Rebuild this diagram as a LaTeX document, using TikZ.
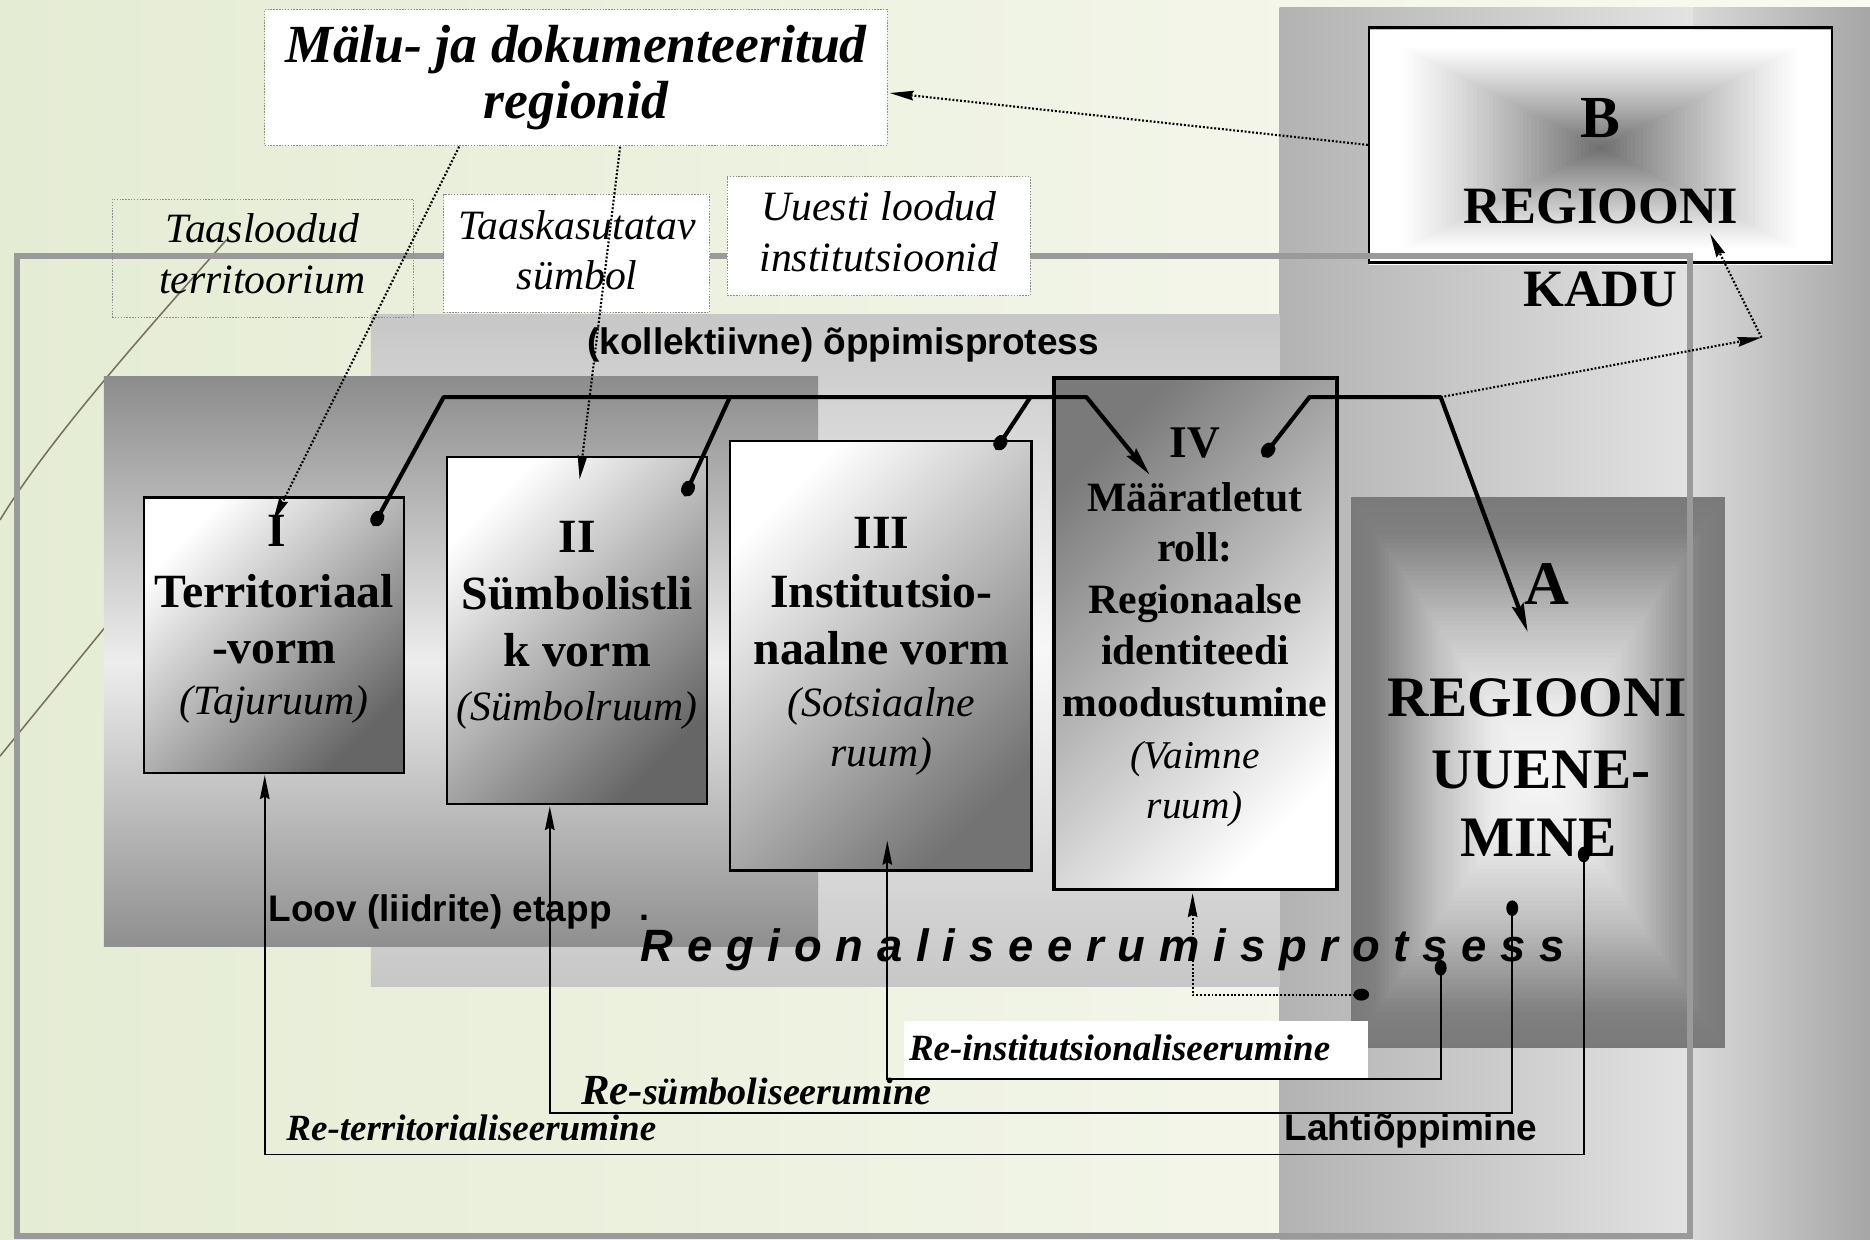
\documentclass[tikz,border=0pt]{standalone}
\usepackage{fontspec}
\setmainfont{Liberation Serif}
\setsansfont{Liberation Sans}
\usetikzlibrary{arrows.meta}
\definecolor{bgL}{RGB}{229,236,212}
\definecolor{bgR}{RGB}{249,250,242}
\definecolor{framegray}{RGB}{154,154,154}
\definecolor{decor}{RGB}{120,114,92}
\tikzset{
  lbl/.style={inner sep=0pt, anchor=base},
  bigB/.style={lbl, font=\fontsize{40}{40}\selectfont\bfseries},
  bigI/.style={lbl, font=\fontsize{35}{35}\selectfont\itshape},
  ivB/.style={lbl, font=\fontsize{35}{35}\selectfont\bfseries},
  ivI/.style={lbl, font=\fontsize{33}{33}\selectfont\itshape},
  abB/.style={lbl, font=\fontsize{48}{48}\selectfont\bfseries},
  bbB/.style={lbl, font=\fontsize{44}{44}\selectfont\bfseries},
  topI/.style={lbl, font=\fontsize{35}{35}\selectfont\itshape},
  maluT/.style={lbl, font=\fontsize{45}{45}\selectfont\bfseries\itshape},
  sansB/.style={lbl, font=\fontsize{30}{30}\selectfont\sffamily\bfseries},
  reT/.style={inner sep=0pt, anchor=base west, font=\fontsize{31}{31}\selectfont\bfseries\itshape},
  panel/.style={rectangle, inner sep=0pt, draw=none},
  formbox/.style={rectangle, inner sep=0pt, draw=black, line width=2pt},
  labelbox/.style={rectangle, inner sep=0pt, fill=white, draw=black!45, line width=0.8pt, dash pattern=on 1.2pt off 1.2pt},
  conn/.style={line width=3.5pt, line join=round},
  fb/.style={line width=1.6pt},
  dotline/.style={line width=1.8pt, dash pattern=on 1.6pt off 1.6pt},
  bigtip/.tip={Stealth[length=24pt,width=10pt,inset=3pt]},
  smalltip/.tip={Stealth[length=20pt,width=8pt,inset=2pt]},
  ball/.tip={Circle[length=14pt,width=11pt]},
  smallball/.tip={Circle[length=13pt,width=10pt]}
}
\begin{document}
\begin{tikzpicture}[x=1pt,y=-1pt]
\useasboundingbox (0,0) rectangle (1568,1039);
% background
\shade[left color=bgL, right color=bgR] (0,0) rectangle (1568,1039);
% decorative theme lines
\draw[decor, line width=1.3pt] (190,201) .. controls (120,280) and (40,370) .. (0,436);
\draw[decor, line width=1.3pt] (150,450) -- (0,634);
% right gray panel
\shade[left color=black!30, right color=black!11] (1073,6) rectangle (1420,1039);
\shade[left color=black!15, right color=black!35] (1420,6) rectangle (1568,1039);
% panels
\node[panel, minimum width=762pt, minimum height=563pt, top color=black!22, bottom color=black!22, middle color=black!3] (lightp) at (692,545.5) {};
\node[panel, minimum width=599pt, minimum height=478pt, top color=black!45, bottom color=black!44, middle color=black!7] (darkp) at (386.5,555) {};
% form boxes
\node[formbox, minimum width=218pt, minimum height=231pt, top color=white, bottom color=black!60, shading angle=45] (bI) at (230,532.5) {};
\node[formbox, minimum width=218pt, minimum height=291pt, top color=white, bottom color=black!60, shading angle=45] (bII) at (484,528.5) {};
\node[formbox, minimum width=253pt, minimum height=360pt, top color=white, bottom color=black!55, shading angle=45] (bIII) at (738.5,550) {};
\node[formbox, line width=3pt, minimum width=237pt, minimum height=429pt, top color=black!52, bottom color=white, shading angle=45] (bIV) at (1002.5,531.5) {};
% box A: rectangular gradient, dark edges to light centre
\foreach \i in {0,...,59}{
  \pgfmathsetmacro\t{\i/60}
  \pgfmathsetmacro\p{\t<0.12 ? 52-\t/0.12*2 : (\t<0.45 ? 50-(\t-0.12)/0.33*25 : (\t<0.75 ? 25-(\t-0.45)/0.3*17 : 8-(\t-0.75)/0.25*5))}
  \pgfmathsetmacro\w{156.5*(1-\t)}
  \pgfmathsetmacro\h{231*(1-\t)}
  \fill[black!\p] (1289.5-\w,648-\h) rectangle (1289.5+\w,648+\h);
}
\node[panel, minimum width=313pt, minimum height=462pt] (bA) at (1289.5,648) {};
% B box: rectangular gradient, dark centre to white edges
\foreach \i in {0,...,59}{
  \pgfmathsetmacro\t{\i/60}
  \pgfmathsetmacro\p{57*pow(max(\t-0.12,0.0001)/0.88,1.15)}
  \pgfmathsetmacro\w{194*(1-\t)}
  \pgfmathsetmacro\h{98.5*(1-\t)}
  \fill[black!\p] (1342-\w,124-\h) rectangle (1342+\w,124+\h);
}
\node[rectangle, inner sep=0pt, draw=black, line width=2pt, minimum width=388pt, minimum height=197pt] (bB) at (1342,121.5) {};
% memory box
\node[labelbox, minimum width=522pt, minimum height=114pt] (malu) at (483,65) {};
% frame
\draw[framegray, line width=5pt] (14,215) rectangle (1417,1036);
% small label boxes
\node[labelbox, fill=none, minimum width=253pt, minimum height=99pt] (taasl) at (220.5,216.5) {};
\node[labelbox, minimum width=223pt, minimum height=99pt] (taask) at (483.5,212.5) {};
\node[labelbox, minimum width=254pt, minimum height=100pt] (uuesti) at (737,198) {};
\node[rectangle, inner sep=0pt, fill=white, minimum width=389pt, minimum height=49pt] (reinstbox) at (952.5,880.5) {};

% ---------- texts ----------
\node[maluT] (malu1) at (483,52) {Mälu- ja dokumenteeritud};
\node[maluT] (malu2) at (483,99) {regionid};
\node[topI] (taasl1) at (220,203) {Taasloodud};
\node[topI] (taasl2) at (220,246) {territoorium};
\node[topI] (taask1) at (484,201) {Taaskasutatav};
\node[topI] (taask2) at (484,243) {sümbol};
\node[topI] (uu1) at (737,185) {Uuesti loodud};
\node[topI] (uu2) at (737,228) {institutsioonid};
\node[lbl, font=\fontsize{50}{50}\selectfont\bfseries] (Bt1) at (1342,115) {B};
\node[bbB] (Bt2) at (1342,187) {REGIOONI};
\node[bbB] (Bt3) at (1342,257) {KADU};
\node[sansB, font=\fontsize{31}{31}\selectfont\sffamily\bfseries] (kollekt) at (707,297) {(kollektiivne) õppimisprotess};
\node[sansB, anchor=base west, font=\fontsize{31}{31}\selectfont\sffamily\bfseries] (loov) at (225,773) {Loov (liidrite) etapp};
\node[sansB, anchor=base west] (stray) at (536,772) {.};
\node[inner sep=0pt, anchor=base west, font=\fontsize{38}{38}\selectfont\sffamily\bfseries\itshape] (regproc) at (537,806) {\hbox to 775pt{R\hfill e\hfill g\hfill i\hfill o\hfill n\hfill a\hfill l\hfill i\hfill s\hfill e\hfill e\hfill r\hfill u\hfill m\hfill i\hfill s\hfill p\hfill r\hfill o\hfill t\hfill s\hfill e\hfill s\hfill s}};
% box I
\node[bigB] (I1) at (232,458) {I};
\node[bigB] (I2) at (230,509) {Territoriaal};
\node[bigB] (I3) at (230,556) {-vorm};
\node[bigI] (I4) at (230,599) {(Tajuruum)};
% box II
\node[bigB] (II1) at (484,463) {II};
\node[bigB] (II2) at (484,511) {Sümbolistli};
\node[bigB] (II3) at (484,559) {k vorm};
\node[bigI] (II4) at (484,604) {(Sümbolruum)};
% box III
\node[bigB] (III1) at (739,460) {III};
\node[bigB] (III2) at (739,509) {Institutsio-};
\node[bigB] (III3) at (739,557) {naalne vorm};
\node[bigI] (III4) at (739,601) {(Sotsiaalne};
\node[bigI] (III5) at (739,643) {ruum)};
% box IV
\node[ivB, font=\fontsize{38}{38}\selectfont\bfseries] (IV1) at (1002,384) {IV};
\node[ivB] (IV2) at (1002,429) {Määratletut};
\node[ivB] (IV3) at (1002,471) {roll:};
\node[ivB] (IV4) at (1002,514) {Regionaalse};
\node[ivB] (IV5) at (1002,557) {identiteedi};
\node[ivB] (IV6) at (1002,601) {moodustumine};
\node[ivI] (IV7) at (1002,644) {(Vaimne};
\node[ivI] (IV8) at (1002,686) {ruum)};
% box A
\node[lbl, font=\fontsize{52}{52}\selectfont\bfseries] (A1) at (1297,507) {A};
\node[abB] (A2) at (1289,601) {REGIOONI};
\node[abB] (A3) at (1292,661) {UUENE-};
\node[abB] (A4) at (1290,718) {MINE};
% feedback labels
\node[reT] (reterr) at (240,956) {Re-territorialiseerumine};
\node[reT, font=\fontsize{32}{32}\selectfont\bfseries\itshape] (resymb) at (487,926) {{\fontsize{36}{36}\selectfont Re-}sümboliseerumine};
\node[reT] (reinst) at (762,889) {Re-institutsionaliseerumine};
\node[sansB, anchor=base west, font=\fontsize{31}{31}\selectfont\sffamily\bfseries] (laht) at (1077,956) {Lahtiõppimine};

% ---------- coordinates ----------
\coordinate (dI) at (313,441);
\coordinate (kI) at (372,333);
\coordinate (kIV) at (911,333);
\coordinate (tIV) at (964,398);
\coordinate (jII) at (612,333);
\coordinate (dII) at (574,416);
\coordinate (jIII) at (864,333);
\coordinate (dIII) at (835,377);
\coordinate (dIV) at (1059,383);
\coordinate (kIVb) at (1098,333);
\coordinate (kA) at (1208,333);
\coordinate (tA) at (1281,530);
\coordinate (kB) at (1477,283);
\coordinate (tB) at (1434,196);
\coordinate (mT) at (746,78);
\coordinate (mI) at (385,123);
\coordinate (tI) at (229,437);
\coordinate (mII) at (520,123);
\coordinate (tII) at (486,402);
\coordinate (dA1) at (1328,710);
\coordinate (fA1) at (1328,968);
\coordinate (fI) at (222,968);
\coordinate (aI) at (222,650);
\coordinate (dA2) at (1268,755);
\coordinate (fA2) at (1268,933);
\coordinate (fII) at (461,933);
\coordinate (aII) at (461,676);
\coordinate (dA3) at (1208,805);
\coordinate (fA3) at (1208,905);
\coordinate (fIII) at (744,905);
\coordinate (aIII) at (744,705);
\coordinate (dL) at (1148,834);
\coordinate (fL) at (1000,834);
\coordinate (aIV) at (1000,749);

% ---------- connectors ----------
\draw[conn, {ball}-{bigtip}] (dI) -- (kI) -- (kIV) -- (tIV);
\draw[conn, -{ball}] (jII) -- (dII);
\draw[conn, -{ball}] (jIII) -- (dIII);
\draw[conn, {ball}-{bigtip}] (dIV) -- (kIVb) -- (kA) -- (tA);
\draw[dotline, -{smalltip}] (kA) -- (kB);
\draw[dotline, -{smalltip}] (kB) -- (tB);
\draw[dotline, -{smalltip}] (bB.west) -- (mT);
\draw[dotline, -{smalltip}] (mI) -- (tI);
\draw[dotline, -{smalltip}] (mII) -- (tII);
\draw[fb, {smallball}-{smalltip}] (dA1) -- (fA1) -- (fI) -- (aI);
\draw[fb, {smallball}-{smalltip}] (dA2) -- (fA2) -- (fII) -- (aII);
\draw[fb, {smallball}-{smalltip}] (dA3) -- (fA3) -- (fIII) -- (aIII);
\draw[dotline, {smallball}-{smalltip}] (dL) -- (fL) -- (aIV);
\end{tikzpicture}
\end{document}
